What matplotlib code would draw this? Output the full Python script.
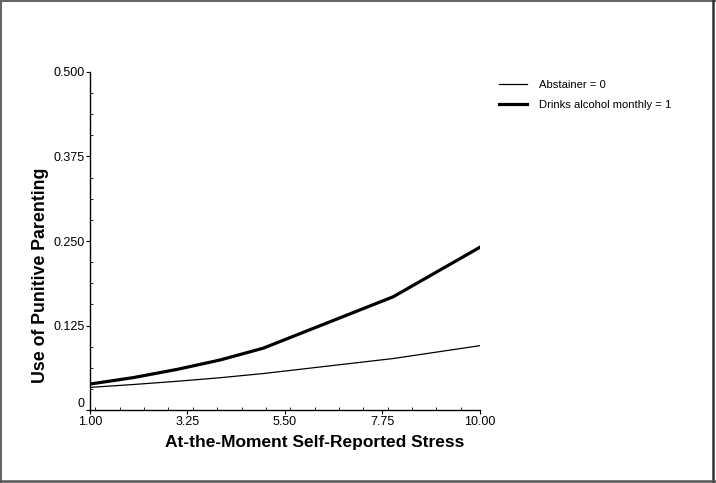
import matplotlib
matplotlib.use('Agg')
import matplotlib.pyplot as plt
from matplotlib.lines import Line2D
from matplotlib.ticker import MultipleLocator

plt.rcParams['font.family'] = ['Liberation Sans', 'DejaVu Sans']

# stress levels where the predicted values were read
stress = [1, 2, 3, 4, 5, 8, 10]
abstainer = [0.0335, 0.0378, 0.0425, 0.0478, 0.0540, 0.0762, 0.0952]
drinks_monthly = [0.0385, 0.0480, 0.0600, 0.0740, 0.0915, 0.1675, 0.2406]

x_ticks = [1.00, 3.25, 5.50, 7.75, 10.00]
y_ticks = [0, 0.125, 0.250, 0.375, 0.500]
y_tick_labels = ['0', '0.125', '0.250', '0.375', '0.500']

fig = plt.figure(figsize=(7.16, 4.83), dpi=100)
ax = fig.add_axes([0.1257, 0.151, 0.5443, 0.700])

ax.plot(stress, abstainer, color='black', lw=0.9, label='Abstainer = 0')
ax.plot(stress, drinks_monthly, color='black', lw=2.3, label='Drinks alcohol monthly = 1')

ax.set_xlim(1, 10)
ax.set_ylim(0, 0.5)
ax.set_xticks(x_ticks)
ax.set_xticklabels(['%.2f' % v for v in x_ticks])
ax.set_yticks(y_ticks)
ax.set_yticklabels(y_tick_labels)
ax.xaxis.set_minor_locator(MultipleLocator(2.25 / 4))
ax.yaxis.set_minor_locator(MultipleLocator(0.125 / 4))
ax.tick_params(which='major', direction='out', length=3, width=0.8, labelsize=9, pad=1)
ax.tick_params(which='minor', direction='in', length=2, width=0.6)
# the zero label sits just above the corner, as in the original
ax.get_yticklabels()[0].set_verticalalignment('bottom')

for side in ['top', 'right']:
    ax.spines[side].set_visible(False)
for side in ['left', 'bottom']:
    ax.spines[side].set_linewidth(1.0)

ax.set_xlabel('At-the-Moment Self-Reported Stress', fontsize=12.5, fontweight='bold')
ax.set_ylabel('Use of Punitive Parenting', fontsize=12.8, fontweight='bold')
ax.xaxis.set_label_coords(0.577, -0.074)
ax.yaxis.set_label_coords(-0.104, 0.40)

# legend outside the axes, top right
handles = [Line2D([], [], color='black', lw=0.9), Line2D([], [], color='black', lw=2.3)]
fig.legend(handles, ['Abstainer = 0', 'Drinks alcohol monthly = 1'],
           loc='upper left', bbox_to_anchor=(0.683, 0.855), frameon=False,
           fontsize=8.1, handlelength=2.5, handletextpad=1.05, labelspacing=0.9)

# frame around the whole picture
W, H = 716, 483
fig.add_artist(Line2D([1 / W, 1 / W], [0, 1], color='#666666', lw=1.5, transform=fig.transFigure))
fig.add_artist(Line2D([0, 1], [1 - 1 / H, 1 - 1 / H], color='#666666', lw=1.5, transform=fig.transFigure))
fig.add_artist(Line2D([713 / W, 713 / W], [0, 1], color='#333333', lw=1.8, transform=fig.transFigure))
fig.add_artist(Line2D([0, 1], [1 - 481 / H, 1 - 481 / H], color='#555555', lw=1.8, transform=fig.transFigure))

fig.savefig('out.png', dpi=100)
